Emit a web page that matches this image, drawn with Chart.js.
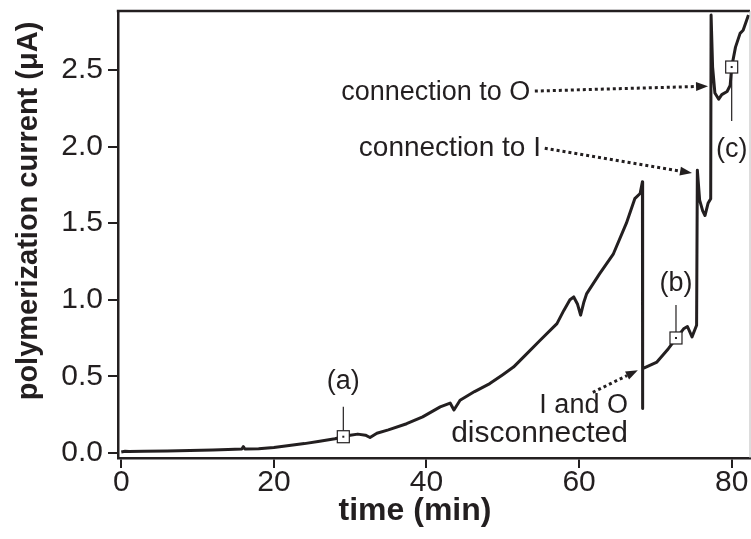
<!DOCTYPE html>
<html>
<head>
<meta charset="utf-8">
<script src="https://cdn.jsdelivr.net/npm/chart.js@4"></script>
<style>
  html, body { margin: 0; padding: 0; background: #fff; }
  #wrap { width: 751px; height: 539px; }
</style>
</head>
<body>
<div id="wrap"><canvas id="chart" width="751" height="539"></canvas></div>
<script>
// polymerization current vs time
const timeMin = [0.0, 0.5, 1.0, 3.0, 6.0, 9.0, 12.0, 14.0, 15.8, 16.0, 16.2, 18.0,
  20.0, 22.0, 24.0, 26.0, 28.0, 29.1, 30.0, 31.0, 32.0, 32.6, 33.5, 35.0,
  37.4, 39.5, 41.8, 43.1, 43.6, 44.4, 46.3, 48.3, 50.0, 51.4, 53.0, 54.9,
  57.1, 58.0, 58.8, 59.3, 59.8, 60.2, 60.6, 61.0, 62.7, 64.5, 66.2, 67.3,
  68.0, 68.3, 68.32, 68.34, 70.2, 71.7, 72.7, 73.7, 74.2, 74.8, 75.4, 75.5,
  75.8, 76.2, 76.5, 76.9, 77.25, 77.3, 77.5, 77.8, 78.3, 78.7, 79.4, 79.8,
  80.0, 80.5, 81.1, 81.5, 82.2];
const currentUA = [0.005, 0.01, 0.008, 0.01, 0.012, 0.015, 0.018, 0.022, 0.025, 0.04, 0.025, 0.026,
  0.035, 0.048, 0.06, 0.075, 0.092, 0.105, 0.115, 0.122, 0.115, 0.10, 0.128, 0.15,
  0.19, 0.235, 0.30, 0.325, 0.28, 0.343, 0.40, 0.452, 0.51, 0.56, 0.64, 0.735,
  0.844, 0.93, 1.0, 1.018, 0.97, 0.899, 0.98, 1.04, 1.17, 1.30, 1.50, 1.66,
  1.694, 1.77, 0.29, 0.55, 0.593, 0.68, 0.746, 0.81, 0.825, 0.757, 0.833, 1.846,
  1.65, 1.58, 1.55, 1.63, 1.66, 2.86, 2.52, 2.35, 2.31, 2.34, 2.36, 2.40,
  2.52, 2.65, 2.74, 2.76, 2.86];

const xTicks = [0, 20, 40, 60, 80];
const yTicks = [0.0, 0.5, 1.0, 1.5, 2.0, 2.5];

const xTitle = 'time (min)';
const yTitle = 'polymerization current (\u03BCA)';

// sample markers (a), (b), (c)
const markerNames = ['(a)', '(b)', '(c)'];
const markerTimes = [29.1, 72.7, 80.0];
const markerValues = [0.105, 0.75, 2.52];

// text notes with dotted arrows (data units)
const noteLines = [['connection to O'], ['connection to I'], ['I and O', 'disconnected']];
const noteAnchorX = [53.6, 55.0, 66.4];
const noteAnchorY = [2.356, 1.99, 0.31];
const arrowFromX = [54.2, 55.5, 61.8];
const arrowFromY = [2.363, 1.99, 0.395];
const arrowToX = [76.9, 74.8, 67.7];
const arrowToY = [2.395, 1.827, 0.539];

const INK = '#231f20';
const FONT = '"Liberation Sans", Arial, Helvetica, sans-serif';

// leader line length / label offset in px (negative = above)
const markerLeader = [-30, -33, 54];
const markerLabelOff = [-55, -54, 83];
const noteSizes = [[27], [28], [27, 30]];
const noteLineGap = 28;

const framePlugin = {
    id: 'frame',
    afterDatasetsDraw(chart) {
        const { ctx, chartArea, scales } = chart;
        const xs = scales.x, ys = scales.y;
        ctx.save();

        // top and right edges of the box
        ctx.strokeStyle = INK;
        ctx.lineWidth = 2.5;
        ctx.beginPath();
        ctx.moveTo(chartArea.left - 1.2, chartArea.top);
        ctx.lineTo(chartArea.right, chartArea.top);
        ctx.stroke();
        ctx.strokeStyle = '#bbb';
        ctx.lineWidth = 1;
        ctx.beginPath();
        ctx.moveTo(chartArea.right, chartArea.top);
        ctx.lineTo(chartArea.right, chartArea.bottom);
        ctx.stroke();

        // axis titles
        ctx.fillStyle = INK;
        ctx.textAlign = 'center';
        ctx.textBaseline = 'middle';
        ctx.font = 'bold 32px ' + FONT;
        ctx.fillText(xTitle, 415, 511);
        ctx.save();
        ctx.translate(29, 211);
        ctx.rotate(-Math.PI / 2);
        ctx.font = 'bold 29px ' + FONT;
        ctx.fillText(yTitle, 0, 0);
        ctx.restore();

        // markers: leader line, square with dot, label
        ctx.font = '27px ' + FONT;
        for (let i = 0; i < markerNames.length; i++) {
            const px = xs.getPixelForValue(markerTimes[i]);
            const py = ys.getPixelForValue(markerValues[i]);
            const dir = Math.sign(markerLeader[i]);
            ctx.strokeStyle = INK;
            ctx.lineWidth = 1.2;
            ctx.beginPath();
            ctx.moveTo(px, py + dir * 6);
            ctx.lineTo(px, py + markerLeader[i]);
            ctx.stroke();
            ctx.fillStyle = '#fff';
            ctx.fillRect(px - 6, py - 6, 12, 12);
            ctx.strokeRect(px - 6, py - 6, 12, 12);
            ctx.fillStyle = INK;
            ctx.fillRect(px - 1, py - 1, 2, 2);
            ctx.fillText(markerNames[i], px, py + markerLabelOff[i]);
        }

        // notes and dotted arrows
        ctx.textAlign = 'right';
        for (let i = 0; i < noteLines.length; i++) {
            const tx = xs.getPixelForValue(noteAnchorX[i]);
            const ty = ys.getPixelForValue(noteAnchorY[i]);
            noteLines[i].forEach((line, k) => {
                ctx.font = noteSizes[i][k] + 'px ' + FONT;
                ctx.fillText(line, tx, ty + k * noteLineGap);
            });

            const x0 = xs.getPixelForValue(arrowFromX[i]);
            const y0 = ys.getPixelForValue(arrowFromY[i]);
            const x1 = xs.getPixelForValue(arrowToX[i]);
            const y1 = ys.getPixelForValue(arrowToY[i]);
            const ang = Math.atan2(y1 - y0, x1 - x0);
            const headLen = 12;
            const bx = x1 - headLen * Math.cos(ang);
            const by = y1 - headLen * Math.sin(ang);
            ctx.setLineDash([3, 3]);
            ctx.lineWidth = 3;
            ctx.beginPath();
            ctx.moveTo(x0, y0);
            ctx.lineTo(bx, by);
            ctx.stroke();
            ctx.setLineDash([]);
            ctx.beginPath();
            ctx.moveTo(x1, y1);
            ctx.lineTo(bx + 4.5 * Math.sin(ang), by - 4.5 * Math.cos(ang));
            ctx.lineTo(bx - 4.5 * Math.sin(ang), by + 4.5 * Math.cos(ang));
            ctx.closePath();
            ctx.fill();
        }
        ctx.restore();
    }
};

function noEdgePadding(s) {
    s.paddingTop = 0;
    s.paddingBottom = 0;
    s.paddingLeft = 0;
    s.paddingRight = 0;
}

const ctx = document.getElementById('chart').getContext('2d');
new Chart(ctx, {
    type: 'line',
    data: {
        datasets: [{
            data: timeMin.map((t, i) => ({ x: t, y: currentUA[i] })),
            borderColor: INK,
            borderWidth: 3,
            borderJoinStyle: 'round',
            pointRadius: 0,
            fill: false,
            tension: 0
        }]
    },
    options: {
        responsive: false,
        animation: false,
        devicePixelRatio: 1,
        layout: { padding: { top: 11, right: 1, left: 0, bottom: 0 } },
        plugins: { legend: { display: false }, tooltip: { enabled: false } },
        scales: {
            x: {
                type: 'linear',
                min: -0.43,
                max: 82.4,
                afterFit: s => { s.height = 81; noEdgePadding(s); },
                afterBuildTicks: s => { s.ticks = xTicks.map(v => ({ value: v })); },
                border: { display: true, color: INK, width: 2.5 },
                grid: { drawOnChartArea: false, drawTicks: true, tickLength: 10, lineWidth: 2, color: INK },
                ticks: { color: INK, font: { family: FONT, size: 30 }, padding: -3, maxRotation: 0 }
            },
            y: {
                min: -0.034,
                max: 2.886,
                afterFit: s => { s.width = 118; noEdgePadding(s); },
                afterBuildTicks: s => { s.ticks = yTicks.map(v => ({ value: v })); },
                border: { display: true, color: INK, width: 2.5 },
                grid: { drawOnChartArea: false, drawTicks: true, tickLength: 10, lineWidth: 2, color: INK },
                ticks: {
                    color: INK, font: { family: FONT, size: 30 }, padding: 5,
                    callback: v => v.toFixed(1)
                }
            }
        }
    },
    plugins: [framePlugin]
});
</script>
</body>
</html>
